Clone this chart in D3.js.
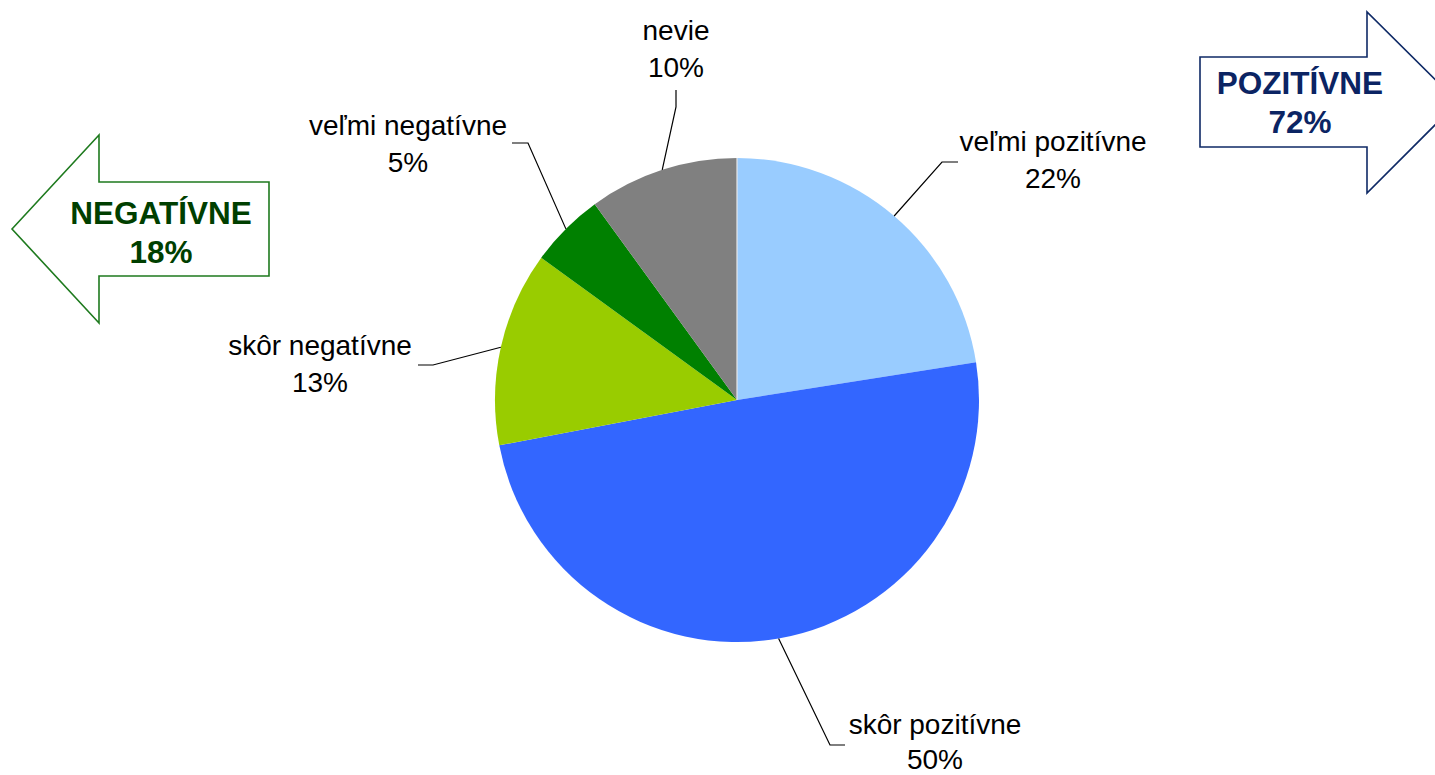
<!DOCTYPE html>
<html>
<head>
<meta charset="utf-8">
<script src="https://cdn.jsdelivr.net/npm/d3@7"></script>
<style>
  html, body { margin: 0; padding: 0; background: #fff; }
  svg { display: block; font-family: "Liberation Sans", Arial, sans-serif; }
</style>
</head>
<body>
<svg id="chart" width="1435" height="775"></svg>
<script>
// ---- data ----
const categories = ["veľmi pozitívne", "skôr pozitívne", "skôr negatívne", "veľmi negatívne", "nevie"];
const values = [22.5, 49.5, 13, 5, 10];
const valueLabels = ["22%", "50%", "13%", "5%", "10%"];
const colors = ["#99CCFF", "#3366FF", "#99CC00", "#008000", "#808080"];
const summaryNames = ["NEGATÍVNE", "POZITÍVNE"];
const summaryValues = ["18%", "72%"];

// ---- layout (label anchors & leader elbows) ----
const labelLayout = [
  { x: 1053, y: 151, gap: 37, elbow: [[942, 162], [958, 162]] },
  { x: 935,  y: 734, gap: 35, elbow: [[830, 745], [845, 745]] },
  { x: 320,  y: 355, gap: 37, elbow: [[433, 365], [418, 365]] },
  { x: 408,  y: 135, gap: 37, elbow: [[528, 143], [512, 143]] },
  { x: 676,  y: 40,  gap: 37, elbow: [[676, 107], [676, 90]] }
];

const svg = d3.select("#chart");
const cx = 737, cy = 400, R = 242;

const pie = d3.pie().sort(null).value(d => d)(values);
const arc = d3.arc().innerRadius(0).outerRadius(R);

const g = svg.append("g").attr("transform", `translate(${cx},${cy})`);
g.selectAll("path.slice").data(pie).enter().append("path")
  .attr("class", "slice")
  .attr("d", arc)
  .attr("fill", (d, i) => colors[i]);

// thin separator at top
g.append("line").attr("x1", 0).attr("y1", 0).attr("x2", 0).attr("y2", -R)
  .attr("stroke", "#e8e8e8").attr("stroke-width", 1.2);

// leader lines & labels
pie.forEach((d, i) => {
  const a = (d.startAngle + d.endAngle) / 2;
  const p0 = [cx + R * Math.sin(a), cy - R * Math.cos(a)];
  const L = labelLayout[i];
  const pts = [p0, ...L.elbow];
  svg.append("path")
    .attr("d", d3.line()(pts))
    .attr("fill", "none").attr("stroke", "#000").attr("stroke-width", 1.2);
  const t = svg.append("text").attr("text-anchor", "middle")
    .attr("font-size", 28).attr("fill", "#000");
  t.append("tspan").attr("x", L.x).attr("y", L.y).text(categories[i]);
  t.append("tspan").attr("x", L.x).attr("y", L.y + L.gap).text(valueLabels[i]);
});

// summary arrows
function arrow(points, stroke, textColor, tx, ty, name, val) {
  svg.append("path").attr("d", d3.line()(points) + "Z")
    .attr("fill", "#fff").attr("stroke", stroke).attr("stroke-width", 1.6);
  const t = svg.append("text").attr("text-anchor", "middle")
    .attr("font-size", 31.5).attr("font-weight", "bold").attr("fill", textColor);
  t.append("tspan").attr("x", tx).attr("y", ty).text(name);
  t.append("tspan").attr("x", tx).attr("y", ty + 39).text(val);
}
arrow([[12, 229], [99, 135], [99, 182], [269, 182], [269, 276], [99, 276], [99, 323]],
  "#1E7A1E", "#003F00", 161, 224, summaryNames[0], summaryValues[0]);
arrow([[1200, 57], [1367, 57], [1367, 12], [1458, 102], [1367, 193], [1367, 147], [1200, 147]],
  "#0F2A66", "#0B2463", 1300, 94, summaryNames[1], summaryValues[1]);
</script>
</body>
</html>
